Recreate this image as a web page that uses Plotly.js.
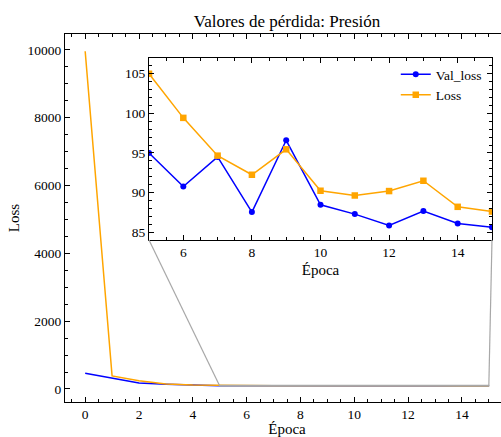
<!DOCTYPE html>
<html><head><meta charset="utf-8">
<script src="https://cdn.plot.ly/plotly-3.0.1.min.js"></script>
<style>html,body{margin:0;padding:0;background:#fff;overflow:hidden}</style>
</head><body><div id="chart" style="width:509px;height:437px"></div>
<script>
const epochs  = [0, 1, 2, 3, 4, 5, 6, 7, 8, 9, 10, 11, 12, 13, 14, 15];
const valLoss = [463, 315, 177, 138, 112, 95.0, 90.77, 94.5, 87.53, 96.6, 88.46, 87.28, 85.84, 87.66, 86.09, 85.63];
const loss    = [9960, 383, 245, 147, 118, 105.0, 99.43, 94.66, 92.25, 95.46, 90.23, 89.63, 90.19, 91.49, 88.2, 87.6];
const seriesNames = ["Val_loss", "Loss"];
const titleText = "Valores de pérdida: Presión";
const xTitle = "Época";
const yTitle = "Loss";

const BLUE = "#0000ff", ORANGE = "#ffa500", GREY = "#a8a8a8";
const FONT = "Liberation Serif";
const mainX = [-0.75, 15.75], mainY = [-385, 10470];
const insetX = [5, 15], insetY = [84, 107];
const domX = [0.1892, 0.9617], domY = [0.440, 0.935];

const inset = epochs.map((e,i)=>i).filter(i => epochs[i] >= insetX[0] && epochs[i] <= insetX[1]);

const traces = [
  {x: epochs, y: valLoss, mode: "lines", line: {color: BLUE, width: 1.5}, showlegend: false, xaxis: "x", yaxis: "y"},
  {x: epochs, y: loss, mode: "lines", line: {color: ORANGE, width: 1.5}, showlegend: false, xaxis: "x", yaxis: "y"},
  {x: inset.map(i=>epochs[i]), y: inset.map(i=>valLoss[i]), name: seriesNames[0], mode: "lines+markers",
   line: {color: BLUE, width: 1.5}, marker: {symbol: "circle", size: 6, color: BLUE}, xaxis: "x2", yaxis: "y2"},
  {x: inset.map(i=>epochs[i]), y: inset.map(i=>loss[i]), name: seriesNames[1], mode: "lines+markers",
   line: {color: ORANGE, width: 1.5}, marker: {symbol: "square", size: 6.5, color: ORANGE}, xaxis: "x2", yaxis: "y2"}
];

const xc = f => mainX[0] + f * (mainX[1] - mainX[0]);
const yc = f => mainY[0] + f * (mainY[1] - mainY[0]);

const tickFont = {family: FONT, size: 13.5, color: "#000"};
const axisBase = {
  showgrid: false, zeroline: false, showline: true, linecolor: "#000", linewidth: 1,
  ticks: "inside", ticklen: 5, tickwidth: 1, tickcolor: "#000", tickfont: tickFont,
  exponentformat: "none", separatethousands: false, tickformat: "d"
};

const layout = {
  width: 509, height: 437,
  margin: {l: 65, r: 0, t: 34, b: 35},
  paper_bgcolor: "#fff", plot_bgcolor: "#fff",
  font: {family: FONT, color: "#000"},
  title: {text: titleText, font: {family: FONT, size: 17, color: "#000"}, x: 0.5, xanchor: "center", y: 1 - 21/437, yanchor: "middle", yref: "container", xref: "paper"},
  xaxis: Object.assign({}, axisBase, {
    range: mainX, domain: [0, 1], anchor: "y", tick0: 0, dtick: 2, mirror: "allticks",
    minor: {dtick: 0.5, tick0: 0, ticks: "inside", ticklen: 3, tickcolor: "#000", tickwidth: 1},
    title: {text: xTitle, font: {family: FONT, size: 15}, standoff: 7}
  }),
  yaxis: Object.assign({}, axisBase, {
    range: mainY, domain: [0, 1], anchor: "x", tick0: 0, dtick: 2000, mirror: "allticks",
    minor: {dtick: 500, tick0: 0, ticks: "inside", ticklen: 3, tickcolor: "#000", tickwidth: 1},
    title: {text: yTitle, font: {family: FONT, size: 15}, standoff: 4}
  }),
  xaxis2: Object.assign({}, axisBase, {
    range: insetX, domain: domX, anchor: "y2", tick0: 0, dtick: 2, mirror: "allticks",
    minor: {dtick: 0.5, tick0: 0, ticks: "inside", ticklen: 3, tickcolor: "#000", tickwidth: 1},
    title: {text: xTitle, font: {family: FONT, size: 15}, standoff: 5}
  }),
  yaxis2: Object.assign({}, axisBase, {
    range: insetY, domain: domY, anchor: "x2", tick0: 0, dtick: 5, mirror: "allticks",
    minor: {dtick: 1, tick0: 0, ticks: "inside", ticklen: 3, tickcolor: "#000", tickwidth: 1}
  }),
  legend: {x: 0.745, y: 0.932, xanchor: "left", yanchor: "top", bgcolor: "rgba(255,255,255,0)",
           font: {family: FONT, size: 13.5, color: "#000"}, itemwidth: 30, tracegroupgap: 0},
  shapes: [
    {type: "rect", xref: "x", yref: "y", x0: insetX[0], x1: insetX[1], y0: insetY[0], y1: insetY[1], line: {color: GREY, width: 1.2}},
    {type: "line", xref: "x", yref: "y", x0: insetX[0], y0: insetY[0], x1: xc(domX[0]), y1: yc(domY[0]), line: {color: GREY, width: 1.2}},
    {type: "line", xref: "x", yref: "y", x0: insetX[1], y0: insetY[0], x1: xc(domX[1]), y1: yc(domY[0]), line: {color: GREY, width: 1.2}}
  ]
};

Plotly.newPlot("chart", traces, layout, {displayModeBar: false, staticPlot: true});
</script>
</body></html>
